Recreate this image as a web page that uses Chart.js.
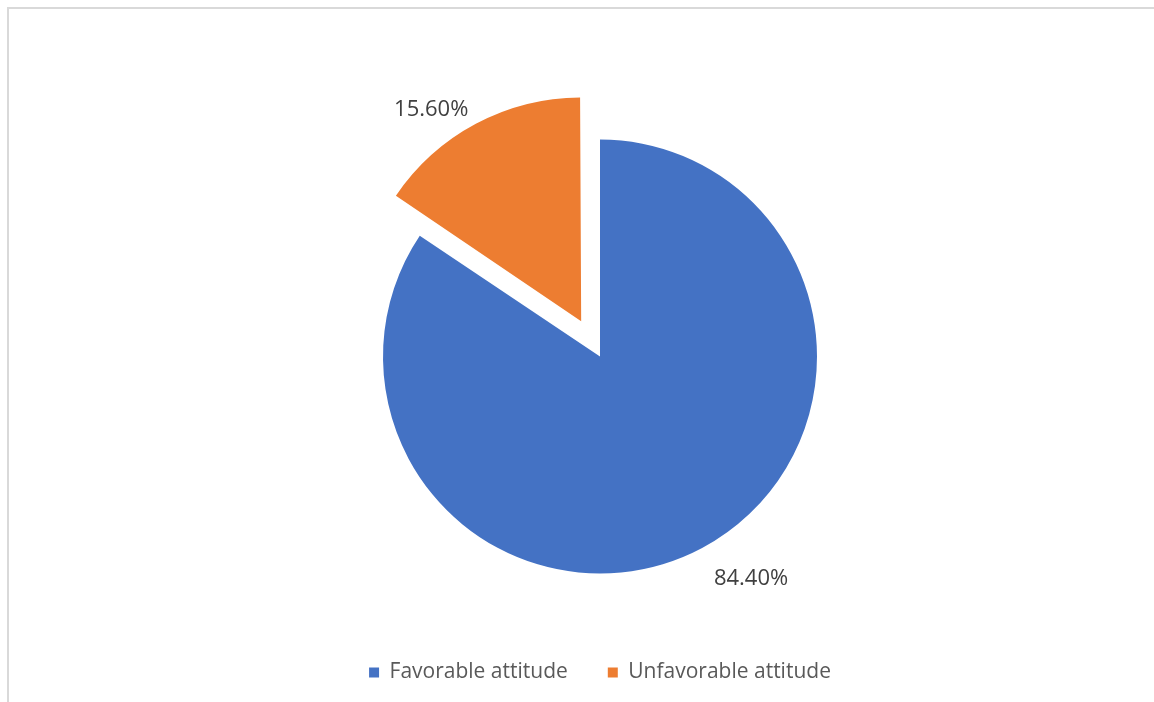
<!DOCTYPE html>
<html>
<head>
<meta charset="utf-8">
<script src="https://cdn.jsdelivr.net/npm/chart.js@4.4.0/dist/chart.umd.min.js"></script>
<style>
  html, body { margin: 0; padding: 0; background: #fff; overflow: hidden; }
  #frame {
    position: absolute; left: 7px; top: 7px; width: 1160px; height: 710px;
    border-top: 2px solid #d9d9d9; border-left: 2px solid #d9d9d9;
  }
  #wrap { position: absolute; left: 0; top: 0; width: 1154px; height: 702px; }
</style>
</head>
<body>
<div id="frame"></div>
<div id="wrap"><canvas id="attitudeChart"></canvas></div>
<script>
// dữ liệu
const categories = ['Favorable attitude', 'Unfavorable attitude'];
const shares = [84.4, 15.6];
const sliceColors = ['#4472C4', '#ED7D31'];
// khoảng tách lát (px) - Chart.js v4 chia offset cho 4 khi vẽ
const explodePx = [0, 40];

// vị trí nhãn dọc theo cung (tỉ lệ góc) và khoảng cách ra ngoài, giống "best fit" của Excel
const labelAngleFrac = [0.48, 0.37];
const labelGap = [52, 42];

const pieLabels = {
  id: 'pieLabels',
  afterDatasetsDraw(chart) {
    const ctx = chart.ctx;
    const meta = chart.getDatasetMeta(0);
    ctx.save();
    ctx.font = '22px "Open Sans"';
    ctx.fillStyle = '#404040';
    ctx.textAlign = 'center';
    ctx.textBaseline = 'middle';
    meta.data.forEach((arc, i) => {
      const p = arc.getProps(['x', 'y', 'startAngle', 'endAngle', 'outerRadius']);
      const off = explodePx[i];
      const mid = (p.startAngle + p.endAngle) / 2;
      const cx = p.x + Math.cos(mid) * off;
      const cy = p.y + Math.sin(mid) * off;
      const a = p.startAngle + (p.endAngle - p.startAngle) * labelAngleFrac[i];
      const d = p.outerRadius + labelGap[i];
      ctx.fillText(shares[i].toFixed(2) + '%', cx + Math.cos(a) * d, cy + Math.sin(a) * d);
    });
    ctx.restore();
  }
};

const ctx = document.getElementById('attitudeChart').getContext('2d');
window.attitudeChart = new Chart(ctx, {
  type: 'pie',
  data: {
    labels: categories,
    datasets: [{
      data: shares,
      backgroundColor: sliceColors,
      borderWidth: 0,
      offset: explodePx.map(v => v * 4),
      radius: 217
    }]
  },
  options: {
    responsive: true,
    maintainAspectRatio: false,
    animation: false,
    layout: { padding: { top: 91, left: 46, right: 0, bottom: 9 } },
    plugins: {
      tooltip: { enabled: false },
      legend: {
        position: 'bottom',
        labels: {
          boxWidth: 10,
          boxHeight: 10,
          padding: 40,
          color: '#595959',
          font: { family: '"Open Sans"', size: 21 }
        }
      }
    }
  },
  plugins: [pieLabels]
});
</script>
</body>
</html>
